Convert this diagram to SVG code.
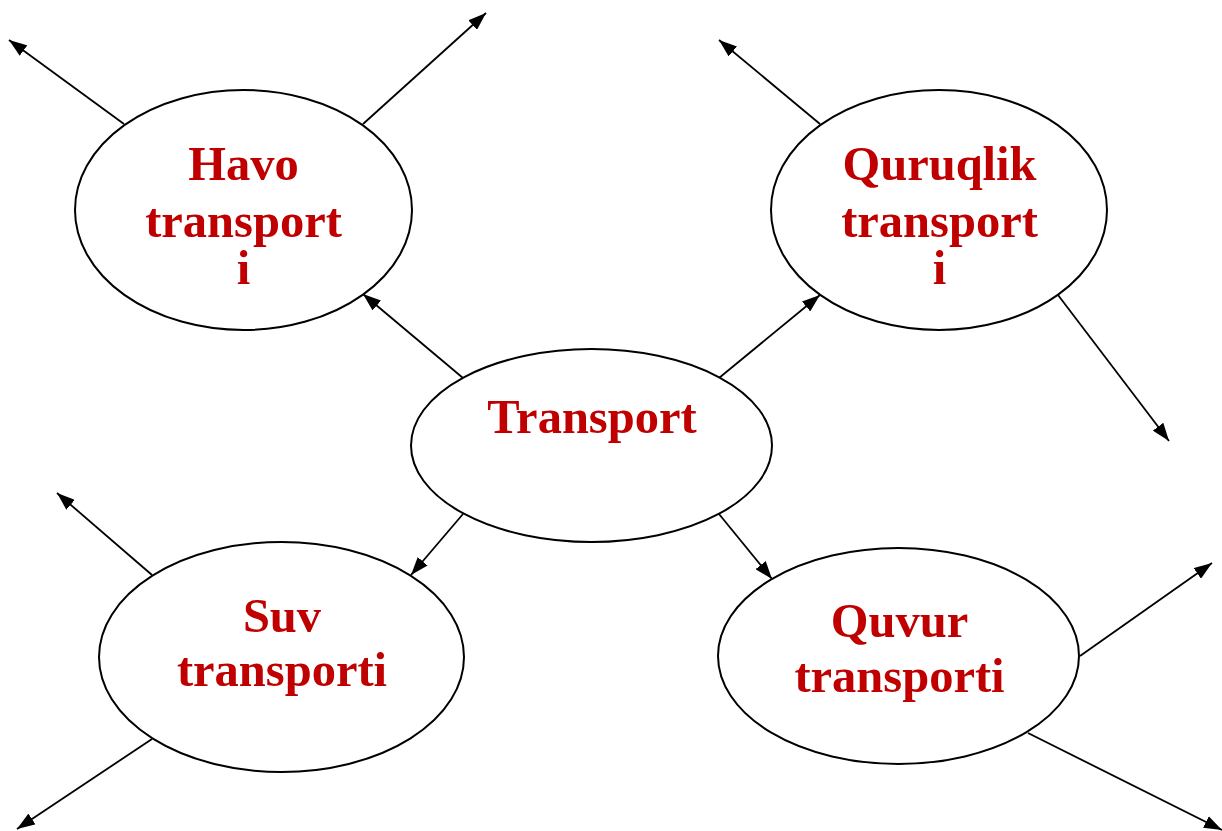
<svg xmlns="http://www.w3.org/2000/svg" width="1222" height="831" viewBox="0 0 1222 831">
<style>
.n{fill:#fff;stroke:#000;stroke-width:2}
.t{font-family:"Liberation Serif","Times New Roman",serif;font-weight:bold;font-size:48.5px;fill:#C00000;text-anchor:middle}
.c line{stroke:#000;stroke-width:1.8;marker-end:url(#ah)}
</style>
<defs>
<marker id="ah" viewBox="0 0 18 13" refX="18" refY="6.5" markerWidth="18" markerHeight="13" markerUnits="userSpaceOnUse" orient="auto">
<path d="M0,0 L18,6.5 L0,13 Z" fill="#000"/>
</marker>
</defs>
<rect width="1222" height="831" fill="#fff"/>
<g class="c" id="connectors">
<line x1="124" y1="124" x2="9" y2="40"/>
<line x1="363" y1="124" x2="486" y2="13"/>
<line x1="820" y1="124" x2="719" y2="40"/>
<line x1="1058" y1="295" x2="1169" y2="441"/>
<line x1="463" y1="378" x2="363" y2="294"/>
<line x1="719" y1="378" x2="820" y2="295"/>
<line x1="463" y1="514" x2="411" y2="575"/>
<line x1="719" y1="514" x2="772" y2="579"/>
<line x1="152" y1="575" x2="57" y2="493"/>
<line x1="152" y1="739" x2="17" y2="829"/>
<line x1="1080" y1="656" x2="1212" y2="563"/>
<line x1="1028" y1="733" x2="1222" y2="830"/>
</g>
<g id="havo">
<ellipse class="n" cx="243.5" cy="210" rx="168.5" ry="120"/>
<text class="t" x="243.5" y="180">Havo</text>
<text class="t" x="243.5" y="237">transport</text>
<text class="t" x="243.5" y="284">i</text>
</g>
<g id="quruqlik">
<ellipse class="n" cx="939" cy="210" rx="168" ry="120"/>
<text class="t" x="939.5" y="180">Quruqlik</text>
<text class="t" x="939.5" y="237">transport</text>
<text class="t" x="939.5" y="284">i</text>
</g>
<g id="transport">
<ellipse class="n" cx="591.5" cy="445.5" rx="180.5" ry="96.5"/>
<text class="t" x="592" y="433">Transport</text>
</g>
<g id="suv">
<ellipse class="n" cx="281.5" cy="657" rx="182.5" ry="115"/>
<text class="t" x="282" y="632">Suv</text>
<text class="t" x="282" y="686">transporti</text>
</g>
<g id="quvur">
<ellipse class="n" cx="898.5" cy="656" rx="180.5" ry="108"/>
<text class="t" x="899.5" y="637">Quvur</text>
<text class="t" x="899.5" y="692">transporti</text>
</g>
</svg>
